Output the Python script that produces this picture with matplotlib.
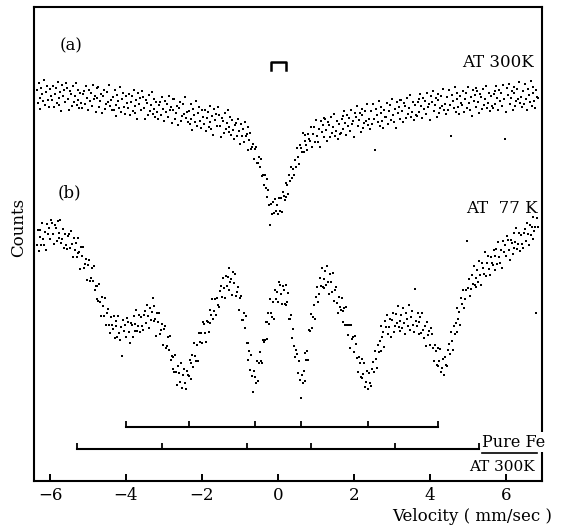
import numpy as np
import matplotlib
matplotlib.use('Agg')
import matplotlib.pyplot as plt

plt.rcParams['font.family'] = 'DejaVu Serif'

# channel velocities in mm/sec (0.025 mm/sec per channel)
velocity = np.linspace(-6.35, 6.85, 529)

# (a) spectrum taken at 300 K, relative counts
counts_300K = [
    391, 378, 398, 383, 372, 393, 387, 380, 401, 376, 389, 395, 381, 374, 392, 385,
    381, 395, 374, 387, 393, 378, 399, 383, 376, 389, 370, 396, 385, 391, 379, 398,
    393, 382, 371, 390, 387, 375, 395, 379, 385, 398, 376, 381, 391, 373, 388, 378,
    373, 387, 390, 377, 395, 383, 371, 391, 380, 388, 375, 396, 382, 385, 369, 393,
    383, 394, 374, 380, 387, 368, 385, 391, 372, 377, 389, 379, 396, 375, 381, 371,
    384, 371, 391, 376, 365, 386, 380, 373, 394, 369, 382, 388, 374, 367, 385, 378,
    373, 387, 366, 379, 385, 370, 391, 375, 368, 381, 362, 388, 377, 383, 371, 390,
    384, 373, 362, 381, 378, 366, 386, 370, 376, 389, 367, 372, 382, 364, 379, 369,
    362, 376, 379, 366, 384, 372, 360, 380, 369, 377, 364, 385, 371, 374, 358, 382,
    371, 382, 362, 368, 375, 356, 373, 379, 360, 365, 377, 367, 384, 363, 369, 359,
    370, 357, 377, 362, 351, 372, 366, 359, 380, 355, 368, 374, 360, 353, 371, 364,
    357, 371, 350, 363, 369, 354, 375, 359, 352, 365, 346, 372, 361, 367, 355, 374,
    366, 355, 344, 363, 360, 348, 368, 352, 358, 371, 349, 354, 364, 346, 361, 351,
    342, 356, 358, 345, 362, 350, 337, 357, 345, 352, 339, 359, 345, 347, 331, 354,
    341, 348, 332, 334, 337, 322, 332, 334, 318, 318, 324, 314, 322, 305, 306, 296,
    306, 293, 302, 284, 291, 276, 256, 277, 267, 279, 268, 282, 270, 276, 267, 283,
    270, 283, 269, 289, 285, 281, 298, 284, 296, 287, 306, 300, 314, 303, 312, 306,
    321, 314, 333, 324, 317, 336, 333, 329, 348, 329, 340, 346, 336, 331, 347, 342,
    340, 354, 334, 347, 354, 339, 361, 345, 339, 352, 334, 360, 349, 356, 344, 363,
    362, 351, 340, 359, 356, 344, 364, 348, 354, 367, 345, 350, 360, 342, 357, 347,
    348, 362, 365, 352, 370, 358, 346, 366, 355, 363, 350, 371, 357, 360, 344, 368,
    364, 375, 355, 361, 368, 349, 366, 372, 353, 358, 370, 360, 377, 356, 362, 352,
    370, 357, 377, 362, 331, 372, 366, 359, 380, 355, 368, 374, 360, 353, 371, 364,
    364, 378, 357, 370, 376, 361, 382, 366, 359, 372, 353, 379, 368, 374, 362, 381,
    381, 370, 359, 378, 375, 363, 383, 367, 373, 386, 364, 369, 379, 361, 376, 366,
    365, 379, 382, 369, 387, 375, 363, 383, 372, 380, 367, 388, 374, 377, 361, 385,
    379, 390, 370, 376, 383, 364, 381, 387, 368, 373, 385, 375, 392, 371, 377, 367,
    384, 371, 391, 376, 345, 386, 380, 373, 394, 369, 382, 388, 374, 367, 385, 378,
    376, 390, 369, 382, 388, 373, 394, 378, 371, 384, 365, 391, 380, 386, 374, 393,
    390, 379, 368, 387, 384, 372, 392, 376, 382, 395, 373, 378, 388, 370, 385, 375,
    373, 387, 390, 377, 395, 383, 371, 391, 380, 388, 375, 396, 382, 342, 369, 393,
    386, 397, 377, 383, 390, 371, 388, 394, 375, 380, 392, 382, 399, 378, 384, 374,
    390, 377, 397, 382, 371, 392, 386, 379, 400, 375, 388, 394, 380, 373, 391, 384,
    383,
]

# (b) spectrum taken at 77 K, relative counts
counts_77K = [
    236, 251, 230, 244, 251, 236, 258, 242, 236, 249, 231, 257, 247, 253, 242, 261,
    258, 247, 237, 256, 253, 240, 260, 243, 248, 261, 238, 242, 252, 233, 247, 236,
    232, 245, 247, 233, 250, 237, 224, 243, 231, 238, 224, 243, 228, 229, 212, 234,
    225, 234, 213, 217, 222, 201, 216, 221, 200, 203, 213, 200, 215, 191, 195, 182,
    195, 180, 197, 179, 165, 184, 175, 165, 183, 156, 168, 172, 156, 148, 164, 156,
    152, 165, 143, 155, 160, 144, 165, 148, 141, 154, 125, 161, 150, 156, 144, 163,
    159, 149, 138, 158, 156, 144, 165, 150, 157, 171, 150, 155, 166, 149, 164, 155,
    151, 166, 170, 158, 176, 165, 153, 173, 161, 169, 183, 175, 160, 162, 145, 168,
    159, 168, 147, 151, 157, 136, 152, 155, 133, 135, 144, 131, 145, 121, 125, 112,
    124, 109, 126, 109, 96, 115, 108, 99, 118, 93, 106, 112, 98, 92, 110, 106,
    105, 121, 102, 118, 126, 114, 138, 125, 120, 136, 120, 148, 139, 148, 138, 159,
    157, 148, 139, 160, 159, 149, 171, 158, 166, 182, 162, 170, 182, 166, 183, 176,
    174, 190, 195, 184, 203, 193, 183, 205, 195, 204, 191, 213, 199, 202, 186, 209,
    198, 207, 185, 189, 194, 171, 183, 185, 161, 161, 168, 153, 165, 138, 138, 121,
    130, 111, 126, 105, 89, 110, 104, 98, 120, 100, 118, 129, 120, 118, 141, 139,
    141, 159, 142, 159, 168, 157, 182, 168, 164, 179, 162, 191, 182, 189, 179, 199,
    196, 187, 177, 195, 191, 177, 196, 176, 179, 188, 162, 162, 166, 143, 152, 135,
    124, 131, 127, 108, 120, 101, 83, 106, 98, 110, 100, 128, 121, 130, 121, 151,
    150, 167, 153, 164, 176, 162, 184, 194, 179, 187, 203, 195, 213, 194, 202, 193,
    210, 196, 215, 199, 187, 207, 199, 189, 208, 180, 191, 194, 178, 168, 184, 174,
    171, 183, 159, 170, 173, 156, 174, 156, 146, 156, 133, 156, 142, 144, 129, 145,
    137, 123, 109, 124, 118, 104, 122, 103, 107, 118, 94, 99, 110, 92, 108, 98,
    95, 112, 119, 109, 130, 122, 113, 136, 129, 140, 130, 155, 144, 149, 134, 160,
    154, 166, 147, 154, 162, 144, 161, 168, 149, 155, 167, 158, 175, 154, 160, 150,
    166, 153, 173, 158, 147, 168, 162, 155, 176, 151, 164, 170, 156, 149, 192, 160,
    155, 168, 147, 159, 164, 148, 168, 151, 143, 155, 135, 159, 146, 150, 136, 153,
    147, 133, 120, 136, 130, 116, 133, 115, 120, 132, 109, 113, 122, 106, 124, 116,
    115, 131, 137, 127, 149, 140, 131, 155, 147, 158, 149, 173, 162, 169, 156, 183,
    177, 191, 173, 182, 191, 240, 193, 202, 185, 192, 206, 197, 215, 196, 203, 194,
    211, 199, 220, 206, 196, 218, 213, 207, 229, 205, 218, 225, 212, 206, 224, 218,
    216, 231, 211, 225, 232, 217, 239, 224, 218, 231, 213, 240, 229, 236, 225, 245,
    241, 231, 221, 241, 238, 227, 248, 233, 239, 253, 232, 237, 248, 230, 246, 237,
    233, 248, 252, 240, 258, 247, 236, 256, 246, 254, 242, 264, 250, 254, 168, 263,
    254,
]

# six-line patterns (mm/sec): sample at 77 K and pure iron at 300 K
lines_77K = [-4.0, -2.34, -0.6, 0.62, 2.38, 4.2]
lines_fe = [-5.3, -3.06, -0.82, 0.86, 3.08, 5.29]

fig = plt.figure(figsize=(5.64, 5.25), dpi=100)
ax = fig.add_axes([0.0603, 0.0838, 0.9007, 0.9029])

ax.plot(velocity, counts_300K, 's', color='black', markersize=1.7, markeredgewidth=0)
ax.plot(velocity, counts_77K, 's', color='black', markersize=1.7, markeredgewidth=0)

# small bracket over the 300 K line
ax.plot([-0.18, -0.18, 0.22, 0.22], [411, 419, 419, 411], color='black', lw=1.8)

# stick diagrams under the spectra
for lines, y0 in [(lines_77K, 54), (lines_fe, 32)]:
    ax.plot([lines[0], lines[-1]], [y0, y0], color='black', lw=1.5)
    ax.vlines(lines, y0, y0 + 6, color='black', lw=1.3)

ax.text(-5.75, 435, '(a)', fontsize=12, va='center', ha='left')
ax.text(6.74, 418, 'AT 300K', fontsize=12, va='center', ha='right')
ax.text(-5.79, 288, '(b)', fontsize=12, va='center', ha='left')
ax.text(6.84, 272, 'AT  77 K', fontsize=12, va='center', ha='right')

ax.text(5.37, 39, 'Pure Fe', fontsize=11.5, va='center', ha='left', clip_on=False,
        bbox=dict(facecolor='white', edgecolor='none', pad=1))
ax.plot([5.37, 6.82], [28, 28], color='black', lw=1.2)
ax.text(6.76, 14, 'AT 300K', fontsize=11, va='center', ha='right')

ax.set_xlim(-6.42, 6.95)
ax.set_ylim(0, 474)
ax.set_xticks([-6, -4, -2, 0, 2, 4, 6])
ax.set_yticks([])
ax.tick_params(axis='x', direction='in', length=5, width=1.4, labelsize=12, pad=4)
for s in ax.spines.values():
    s.set_linewidth(1.5)

ax.set_xlabel('Velocity ( mm/sec )', fontsize=12, ha='right')
ax.xaxis.set_label_coords(1.02, -0.058)
ax.set_ylabel('Counts', fontsize=12)
ax.yaxis.set_label_coords(-0.014, 0.534)

fig.savefig('out.png', dpi=100)
